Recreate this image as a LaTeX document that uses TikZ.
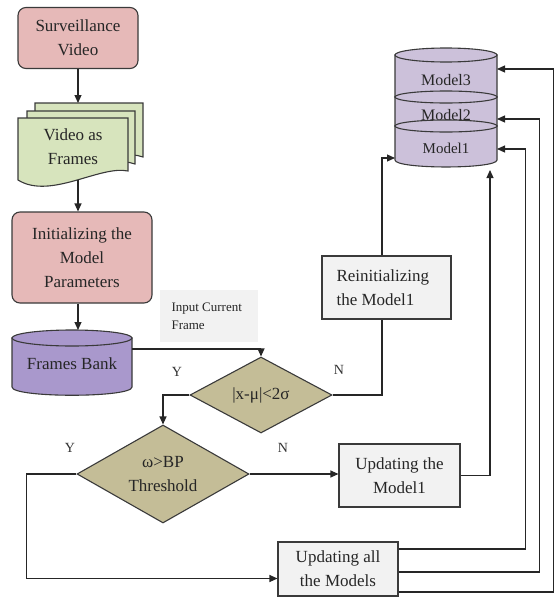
\documentclass[tikz,border=0pt]{standalone}
\usepackage{fontspec}
\setmainfont{Liberation Serif}
\newfontfamily\tnr{Liberation Serif}
\usetikzlibrary{arrows.meta,shapes.geometric}
\definecolor{pinkf}{HTML}{E6B9B8}
\definecolor{greenf}{HTML}{D7E4BD}
\definecolor{purpf}{HTML}{A998CC}
\definecolor{modf}{HTML}{CCC1DA}
\definecolor{tanf}{HTML}{C4BD97}
\definecolor{boxf}{HTML}{F2F2F2}
\definecolor{edge}{HTML}{3A3A3A}
\begin{document}
\begin{tikzpicture}[x=1pt,y=-1pt,
  txt/.style={font=\tnr\fontsize{17}{24}\selectfont, text=black!85},
  lbl/.style={font=\tnr\fontsize{14}{16}\selectfont, text=black!80},
  rbox/.style={txt, draw=edge, line width=1.1pt, rounded corners=8pt, fill=pinkf, align=center, inner sep=0pt},
  gbox/.style={txt, draw=edge, line width=1.1pt, fill=boxf, inner sep=0pt},
  dia/.style={txt, diamond, draw=edge, line width=1.1pt, fill=tanf, inner sep=0pt, align=center},
  ghost/.style={inner sep=0pt, outer sep=0pt},
  shp/.style={draw=edge, line width=1.1pt},
  arr/.style={draw=black!85, line width=1.1pt, -{Triangle[length=8pt,width=7pt]}},
  ln/.style={draw=black!85, line width=1.1pt}]
\useasboundingbox (0,0) rectangle (556,597);

% Surveillance Video
\node[rbox, minimum width=120, minimum height=61] (sv) at (78,38) {Surveillance\\Video};

% Video as Frames (multi-document)
\path[shp, fill=greenf] (35,103) -- (143,103) -- (143,157) .. controls (115,147) and (75,175) .. (35,162) -- cycle;
\path[shp, fill=greenf] (27,111) -- (135,111) -- (135,164) .. controls (107,154) and (67,182) .. (27,169) -- cycle;
\path[shp, fill=greenf] (18,118) -- (128,118) -- (128,171) .. controls (100,165) and (50,200) .. (18,180) -- cycle;
\node[ghost, minimum width=108, minimum height=54] (vfback) at (89,130) {};
\node[txt, align=center] (vf) at (73,147) {Video as\\Frames};
\coordinate (vfb) at (78,180);

% Initializing
\node[rbox, minimum width=140, minimum height=91] (init) at (82,257.5) {Initializing the\\Model\\Parameters};

% Frames Bank cylinder
\path[shp, fill=purpf] (12,338) -- (12,387) .. controls (12,398) and (132,398) .. (132,387) -- (132,338) -- cycle;
\path[shp, fill=purpf] (72,338) ellipse [x radius=60pt, y radius=8pt];
\node[ghost, minimum width=120, minimum height=65] (fb) at (72,362.5) {};
\node[txt] at (72,364) {Frames Bank};

% Input current frame
\node[fill=boxf, minimum width=98, minimum height=52, inner sep=0pt] (icf) at (209,316) {};
\node[font=\tnr\fontsize{13}{18}\selectfont, text=black!85, align=left, anchor=west] at (168,316) {Input Current\\Frame};

% Diamonds
\node[dia, minimum width=142, minimum height=76, aspect=1.87] (d1) at (261,395) {|x-μ|<2σ};
\node[dia, minimum width=172, minimum height=98, aspect=1.75] (d2) at (163,474) {ω>BP\\Threshold};

% Reinitializing
\node[gbox, minimum width=129, minimum height=63, align=left] (re) at (386.5,287.5) {};
\node[txt, align=left, anchor=west] at (333,287.5) {Reinitializing\\the Model1};

% Updating the Model1
\node[gbox, minimum width=121, minimum height=63, align=center] (u1) at (399.5,475.5) {Updating the\\Model1};

% Updating all the Models
\node[gbox, minimum width=120, minimum height=54, align=center] (ua) at (338,569) {Updating all\\the Models};

% Models stack
\path[shp, fill=modf] (395,55) -- (395,97) .. controls (395,106.3) and (497,106.3) .. (497,97) -- (497,55) -- cycle;
\path[shp, fill=modf] (446,55) ellipse [x radius=51pt, y radius=7pt];
\node[txt, font=\tnr\fontsize{16}{18}\selectfont] at (446,80) {Model3};
\path[shp, fill=modf] (395,97) -- (395,126) .. controls (395,135.3) and (497,135.3) .. (497,126) -- (497,97) -- cycle;
\path[shp, fill=modf] (446,97) ellipse [x radius=51pt, y radius=6pt];
\node[txt, font=\tnr\fontsize{16}{18}\selectfont] at (446,115) {Model2};
\path[shp, fill=modf] (395,126) -- (395,160) .. controls (395,169.3) and (497,169.3) .. (497,160) -- (497,126) -- cycle;
\path[shp, fill=modf] (446,126) ellipse [x radius=51pt, y radius=6pt];
\node[txt, font=\tnr\fontsize{15}{18}\selectfont] at (446,148) {Model1};
\node[ghost, minimum width=102, minimum height=119] (ms) at (446,107.5) {};
\coordinate (m3r) at (497,69);
\coordinate (m2r) at (497,119);
\coordinate (m1r) at (497,149);
\coordinate (mbot) at (490,170);
\coordinate (mbl) at (395,158);

% Connectors
\draw[arr] (sv.south) -- (sv.south |- vfback.north);
\draw[arr] (vfb) -- (vfb |- init.north);
\draw[arr] (vfb |- init.south) -- (vfb |- fb.north);
\draw[arr] ([yshift=13.5pt]fb.east) -| (d1.north);
\draw[arr] (d1.west) -| (d2.north);
\draw[ln] (d1.east) -| ([xshift=-4.5pt]re.south);
\draw[arr] ([xshift=-4.5pt]re.north) |- (mbl);
\draw[arr] (d2.east) -- (d2.east -| u1.west);
\draw[arr] (u1.east) -| (mbot);
\draw[arr] (d2.west) -- ++(-50,0) |- ([yshift=-9.5pt]ua.west);
\draw[arr] ([yshift=20pt]ua.east) -- ++(127,0) |- (m1r);
\draw[arr] ([yshift=-3pt]ua.east) -- ++(141,0) |- (m2r);
\draw[arr] ([yshift=-23pt]ua.east) -- ++(155,0) |- (m3r);

% Labels
\node[lbl] at (177,372) {Y};
\node[lbl] at (339,370) {N};
\node[lbl] at (70,448) {Y};
\node[lbl] at (283,448) {N};
\end{tikzpicture}
\end{document}
